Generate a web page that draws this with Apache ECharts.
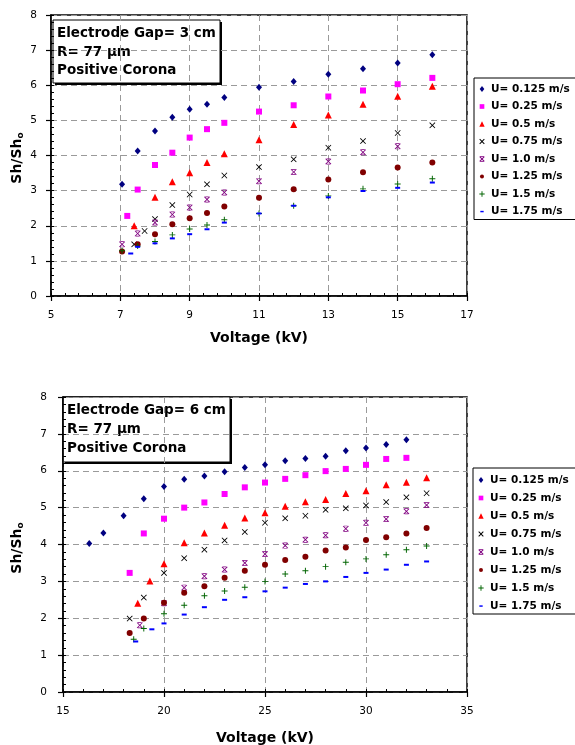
<!DOCTYPE html>
<html>
<head>
<meta charset="utf-8">
<script src="https://cdn.jsdelivr.net/npm/echarts@6/dist/echarts.min.js"></script>
<style>
html,body{margin:0;padding:0;background:#fff;}
#chart{width:575px;height:745px;}
</style>
</head>
<body>
<div id="chart"></div>
<script>
// ---------- names ----------
const seriesNames = ['U= 0.125 m/s','U= 0.25 m/s','U= 0.5 m/s','U= 0.75 m/s','U= 1.0 m/s','U= 1.25 m/s','U= 1.5 m/s','U= 1.75 m/s'];

// ---------- top chart: Electrode gap 3 cm  [voltage kV, Sh/Sho] ----------
const gap3_U0125 = [[7.05,3.18],[7.5,4.13],[8,4.70],[8.5,5.09],[9,5.32],[9.5,5.46],[10,5.65],[11,5.94],[12,6.11],[13,6.31],[14,6.47],[15,6.63],[16,6.87]];
const gap3_U025  = [[7.2,2.28],[7.5,3.03],[8,3.73],[8.5,4.08],[9,4.51],[9.5,4.75],[10,4.93],[11,5.25],[12,5.43],[13,5.68],[14,5.85],[15,6.03],[16,6.21]];
const gap3_U05   = [[7.4,2.00],[8,2.81],[8.5,3.25],[9,3.51],[9.5,3.80],[10,4.05],[11,4.45],[12,4.88],[13,5.15],[14,5.46],[15,5.69],[16,5.97]];
const gap3_U075  = [[7.4,1.47],[7.7,1.85],[8,2.19],[8.5,2.59],[9,2.89],[9.5,3.18],[10,3.43],[11,3.67],[12,3.89],[13,4.22],[14,4.41],[15,4.64],[16,4.86]];
const gap3_U10   = [[7.05,1.47],[7.5,1.78],[8,2.09],[8.5,2.32],[9,2.52],[9.5,2.75],[10,2.95],[11,3.27],[12,3.53],[13,3.83],[14,4.09],[15,4.26]];
const gap3_U125  = [[7.05,1.27],[7.5,1.47],[8,1.76],[8.5,2.04],[9,2.21],[9.5,2.36],[10,2.55],[11,2.80],[12,3.04],[13,3.32],[14,3.52],[15,3.66],[16,3.80]];
const gap3_U15   = [[7.05,1.29],[7.5,1.42],[8,1.55],[8.5,1.74],[9,1.91],[9.5,2.02],[10,2.17],[11,2.35],[12,2.57],[13,2.85],[14,3.05],[15,3.19],[16,3.34]];
const gap3_U175  = [[7.3,1.21],[7.5,1.40],[8,1.50],[8.5,1.64],[9,1.76],[9.5,1.90],[10,2.09],[11,2.35],[12,2.57],[13,2.81],[14,2.99],[15,3.08],[16,3.23]];

// ---------- bottom chart: Electrode gap 6 cm ----------
const gap6_U0125 = [[16.3,4.03],[17,4.31],[18,4.78],[19,5.24],[20,5.57],[21,5.77],[22,5.86],[23,5.97],[24,6.09],[25,6.16],[26,6.27],[27,6.33],[28,6.39],[29,6.54],[30,6.62],[31,6.71],[32,6.84]];
const gap6_U025  = [[18.3,3.23],[19,4.30],[20,4.70],[21,5.00],[22,5.14],[23,5.37],[24,5.55],[25,5.68],[26,5.78],[27,5.88],[28,5.99],[29,6.05],[30,6.16],[31,6.32],[32,6.35]];
const gap6_U05   = [[18.7,2.41],[19.3,3.01],[20,3.48],[21,4.05],[22,4.31],[23,4.52],[24,4.72],[25,4.86],[26,5.04],[27,5.16],[28,5.22],[29,5.38],[30,5.46],[31,5.62],[32,5.69],[33,5.81]];
const gap6_U075  = [[18.3,1.99],[19,2.56],[20,3.23],[21,3.63],[22,3.86],[23,4.11],[24,4.34],[25,4.59],[26,4.71],[27,4.78],[28,4.94],[29,4.98],[30,5.06],[31,5.15],[32,5.28],[33,5.39]];
const gap6_U10   = [[18.8,1.81],[20,2.41],[21,2.83],[22,3.14],[23,3.32],[24,3.50],[25,3.74],[26,3.97],[27,4.13],[28,4.25],[29,4.43],[30,4.59],[31,4.69],[32,4.90],[33,5.07]];
const gap6_U125  = [[18.3,1.60],[19,1.99],[20,2.42],[21,2.69],[22,2.87],[23,3.10],[24,3.29],[25,3.45],[26,3.58],[27,3.67],[28,3.84],[29,3.92],[30,4.12],[31,4.20],[32,4.30],[33,4.45]];
const gap6_U15   = [[18.5,1.43],[19,1.72],[20,2.12],[21,2.35],[22,2.61],[23,2.74],[24,2.84],[25,3.00],[26,3.20],[27,3.29],[28,3.40],[29,3.52],[30,3.61],[31,3.72],[32,3.86],[33,3.96]];
const gap6_U175  = [[18.6,1.37],[19.4,1.70],[20,1.86],[21,2.10],[22,2.30],[23,2.50],[24,2.57],[25,2.73],[26,2.83],[27,2.93],[28,3.00],[29,3.12],[30,3.23],[31,3.32],[32,3.45],[33,3.54]];

// ---------- tick labels ----------
const topXTicks = [5,7,9,11,13,15,17];
const bottomXTicks = [15,20,25,30,35];
const yTicks = [0,1,2,3,4,5,6,7,8];
const topXMinor = [];
for (let i = 0; i <= 30; i++) topXMinor.push(+(5 + i * 0.4).toFixed(1));

// ---------- styles ----------
const FONT = 'DejaVu Sans';
const colors = ['#000080','#ff00ff','#ff0000','#000000','#800080','#800000','#006400','#0000ff'];
const pathX = 'path://M0,1 L1,0 L5,4 L9,0 L10,1 L6,5 L10,9 L9,10 L5,6 L1,10 L0,9 L4,5 Z';
const pathStar = 'path://M0,1 L1,0 L5,4 L9,0 L10,1 L6,5 L10,9 L9,10 L5,6 L1,10 L0,9 L4,5 Z M2,0 L8,0 L8,1.2 L2,1.2 Z M2,8.8 L8,8.8 L8,10 L2,10 Z';
const pathPlus = 'path://M4.2,0 L5.8,0 L5.8,4.2 L10,4.2 L10,5.8 L5.8,5.8 L5.8,10 L4.2,10 L4.2,5.8 L0,5.8 L0,4.2 L4.2,4.2 Z';
const symbols = ['diamond','rect','triangle',pathX,pathStar,'circle',pathPlus,'rect'];
const sizes = [[6,7],6,7,6,6,6,6,[5,2]];
// legend icons (padded with move-to points so they sit smaller inside the icon box)
const legendIcons = [
  'path://M0,0 M12,12 M6,1.5 L9.5,6 L6,10.5 L2.5,6 Z',
  'path://M0,0 M12,12 M2.5,2.5 L9.5,2.5 L9.5,9.5 L2.5,9.5 Z',
  'path://M0,0 M12,12 M6,2 L10,10 L2,10 Z',
  'path://M0,0 M12,12 M2,3 L3,2 L6,5 L9,2 L10,3 L7,6 L10,9 L9,10 L6,7 L3,10 L2,9 L5,6 Z',
  'path://M0,0 M12,12 M2,3 L3,2 L6,5 L9,2 L10,3 L7,6 L10,9 L9,10 L6,7 L3,10 L2,9 L5,6 Z M3.5,2 L8.5,2 L8.5,3 L3.5,3 Z M3.5,9 L8.5,9 L8.5,10 L3.5,10 Z',
  'circle',
  'path://M0,0 M12,12 M5.3,2 L6.7,2 L6.7,5.3 L10,5.3 L10,6.7 L6.7,6.7 L6.7,10 L5.3,10 L5.3,6.7 L2,6.7 L2,5.3 L5.3,5.3 Z',
  'path://M0,0 M12,12 M3.5,5 L8.5,5 L8.5,7.2 L3.5,7.2 Z'
];

const topData = [gap3_U0125,gap3_U025,gap3_U05,gap3_U075,gap3_U10,gap3_U125,gap3_U15,gap3_U175];
const botData = [gap6_U0125,gap6_U025,gap6_U05,gap6_U075,gap6_U10,gap6_U125,gap6_U15,gap6_U175];

const chart = echarts.init(document.getElementById('chart'), null, {renderer: 'canvas'});

const splitStyle = {show: true, lineStyle: {color: '#9a9a9a', width: 1, type: [6, 4]}};
const labelStyle = {color: '#000', fontFamily: FONT, fontSize: 10.5};

function mainX(grid, min, max, interval, ticks) {
  return {
    type: 'value', gridIndex: grid, min: min, max: max, interval: interval, position: 'bottom',
    axisLine: {show: true, onZero: false, lineStyle: {color: '#000', width: 1.5}},
    axisTick: {show: true, inside: false, length: 5, lineStyle: {color: '#000', width: 1.2}, customValues: ticks},
    axisLabel: Object.assign({margin: 14, customValues: ticks}, labelStyle),
    splitLine: splitStyle
  };
}
function minorX(grid, min, max, interval, ticks) {
  const ax = {
    type: 'value', gridIndex: grid, min: min, max: max, position: 'bottom',
    axisLine: {show: false, onZero: false},
    axisTick: {show: true, inside: true, length: 3, lineStyle: {color: '#000', width: 1}},
    axisLabel: {show: false}, splitLine: {show: false}
  };
  if (ticks) ax.axisTick.customValues = ticks; else ax.interval = interval;
  return ax;
}
function mainY(grid, margin) {
  return {
    type: 'value', gridIndex: grid, min: 0, max: 8, interval: 1, position: 'left',
    axisLine: {show: true, onZero: false, lineStyle: {color: '#000', width: 1.5}},
    axisTick: {show: true, inside: false, length: 5, lineStyle: {color: '#000', width: 1.2}},
    axisLabel: Object.assign({margin: margin, customValues: yTicks}, labelStyle),
    splitLine: splitStyle
  };
}
function minorY(grid) {
  return {
    type: 'value', gridIndex: grid, min: 0, max: 8, interval: 0.2, position: 'left',
    axisLine: {show: false, onZero: false},
    axisTick: {show: true, inside: true, length: 3, lineStyle: {color: '#000', width: 1}},
    axisLabel: {show: false}, splitLine: {show: false}
  };
}

const series = [];
for (let i = 0; i < 8; i++) {
  series.push({
    type: 'scatter', name: seriesNames[i], xAxisIndex: 0, yAxisIndex: 0,
    data: topData[i], symbol: symbols[i], symbolSize: sizes[i],
    itemStyle: {color: colors[i], opacity: 1}, z: 3
  });
  series.push({
    type: 'scatter', name: seriesNames[i], xAxisIndex: 2, yAxisIndex: 2,
    data: botData[i], symbol: symbols[i], symbolSize: sizes[i],
    itemStyle: {color: colors[i], opacity: 1}, z: 3
  });
}

function legend(left, top, padTop, gap) {
  return {
    orient: 'vertical', left: left, top: top,
    padding: [padTop, 8, 2, 4], itemGap: gap, itemWidth: 8, itemHeight: 8,
    backgroundColor: '#fff', borderColor: '#000', borderWidth: 1,
    selectedMode: false,
    textStyle: {color: '#000', fontFamily: FONT, fontWeight: 'bold', fontSize: 10.5, lineHeight: 12},
    data: seriesNames.map(function (n, i) {
      return i === 5 ? {name: n, icon: 'path://M0,0 M12,12 M6,3 A3,3 0 1 1 5.99,3 Z'} : {name: n, icon: legendIcons[i]};
    })
  };
}

function annot(x, y, w, h, lines, lineY) {
  const children = [
    {type: 'rect', shape: {x: x + 2, y: y + 2, width: w, height: h}, style: {fill: '#000'}},
    {type: 'rect', shape: {x: x, y: y, width: w, height: h}, style: {fill: '#fff', stroke: '#000', lineWidth: 1}}
  ];
  lines.forEach(function (t, i) {
    children.push({type: 'text', x: x + 4, y: lineY[i],
      style: {text: t, fill: '#000', font: 'bold 13.5px "DejaVu Sans"', textAlign: 'left', textVerticalAlign: 'middle'}});
  });
  return {type: 'group', z: 50, children: children};
}

function yTitle(x, y) {
  return {type: 'text', x: x, y: y, rotation: Math.PI / 2, z: 50,
    style: {text: '{a|Sh/Sh}{b|o}', textAlign: 'center', textVerticalAlign: 'middle',
      rich: {
        a: {fontFamily: FONT, fontWeight: 'bold', fontSize: 14, fill: '#000', lineHeight: 17},
        b: {fontFamily: FONT, fontWeight: 'bold', fontSize: 9, fill: '#000', lineHeight: 10, verticalAlign: 'bottom'}
      }}};
}
function xTitle(x, y) {
  return {type: 'text', x: x, y: y, z: 50,
    style: {text: 'Voltage (kV)', fill: '#000', font: 'bold 14px "DejaVu Sans"', textAlign: 'center', textVerticalAlign: 'middle'}};
}

chart.setOption({
  animation: false,
  backgroundColor: '#fff',
  grid: [
    {left: 51, top: 15, width: 416, height: 281, show: true, borderColor: '#000', borderWidth: 1.5, backgroundColor: 'transparent'},
    {left: 63, top: 397, width: 404, height: 295, show: true, borderColor: '#000', borderWidth: 1.5, backgroundColor: 'transparent'}
  ],
  xAxis: [
    mainX(0, 5, 17, 1, topXTicks),
    minorX(0, 5, 17, null, topXMinor),
    mainX(1, 15, 35, 5, bottomXTicks),
    minorX(1, 15, 35, 1, null)
  ],
  yAxis: [mainY(0, 14), minorY(0), mainY(1, 16), minorY(1)],
  legend: [legend(474, 78, 5, 5.5), legend(473, 468, 6, 6)],
  series: series,
  graphic: [
    annot(53, 20, 167, 63, ['Electrode Gap= 3 cm', 'R= 77 µm', 'Positive Corona'], [33, 52, 70]),
    annot(63, 397, 167, 65, ['Electrode Gap= 6 cm', 'R= 77 µm', 'Positive Corona'], [410, 429, 448]),
    yTitle(17, 158), yTitle(17, 548),
    xTitle(259, 338), xTitle(265, 738)
  ]
});
</script>
</body>
</html>
